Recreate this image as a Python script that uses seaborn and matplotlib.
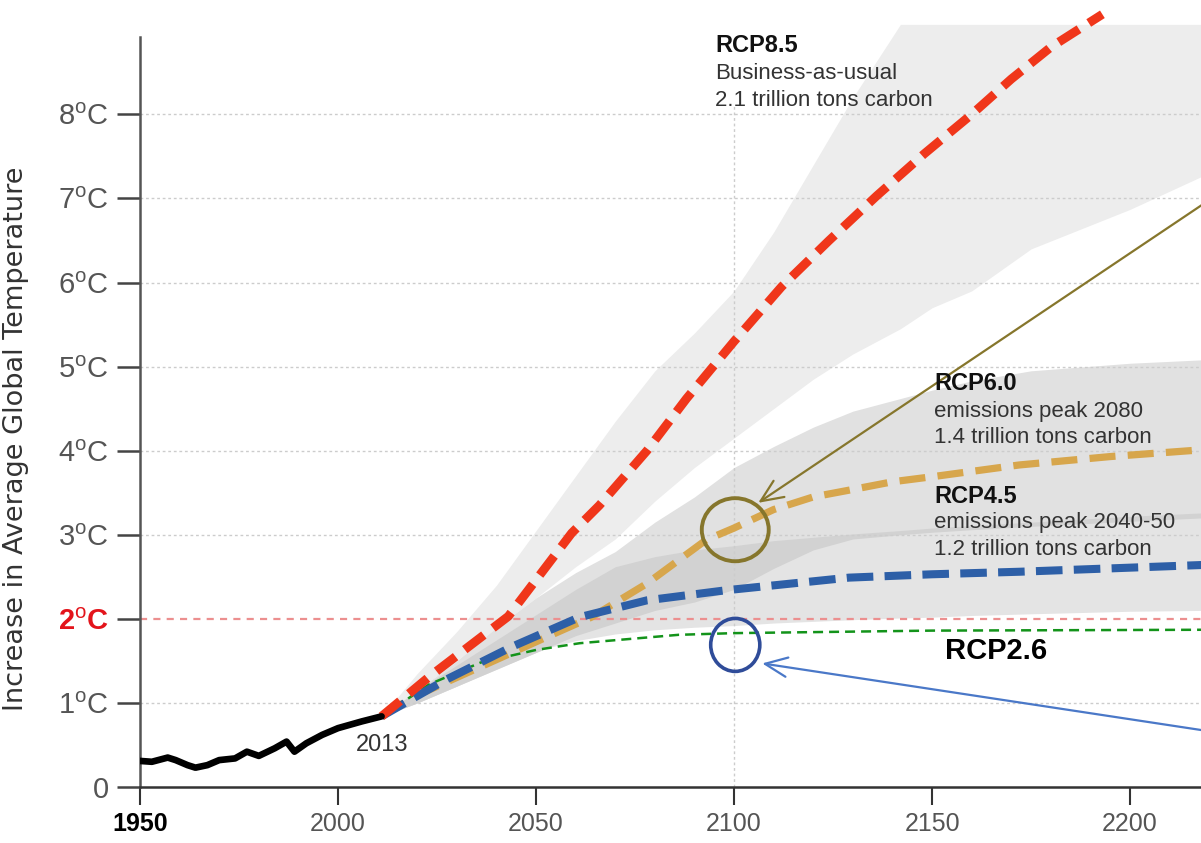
import matplotlib
matplotlib.use("Agg")
import matplotlib.pyplot as plt
from matplotlib.patches import Ellipse
import seaborn as sns
import pandas as pd
import numpy as np

# ---- observed record (1950-2011) ----
hist_years = [1950, 1953, 1957, 1959, 1962, 1964, 1967, 1970, 1974, 1977, 1980,
              1984, 1987, 1989, 1992, 1996, 2000, 2006, 2011]
hist_temp = [0.31, 0.30, 0.35, 0.32, 0.26, 0.23, 0.26, 0.32, 0.34, 0.42, 0.37,
             0.46, 0.54, 0.42, 0.52, 0.62, 0.70, 0.78, 0.84]

# ---- scenario medians ----
rcp85_years = [2011, 2023, 2043, 2059, 2066, 2078, 2088, 2100, 2112, 2124, 2136,
               2148, 2160, 2170, 2180, 2193]
rcp85_temp = [0.84, 1.31, 2.03, 3.02, 3.35, 4.0, 4.62, 5.3, 5.95, 6.5, 7.03,
              7.53, 8.0, 8.42, 8.8, 9.19]

rcp60_years = [2011, 2019, 2036, 2053, 2064, 2078, 2093, 2100, 2110, 2120, 2129,
               2140, 2150, 2172, 2195, 2218]
rcp60_temp = [0.84, 1.07, 1.43, 1.79, 2.02, 2.42, 2.94, 3.08, 3.3, 3.45, 3.53,
              3.63, 3.69, 3.83, 3.93, 4.01]

rcp45_years = [2011, 2027, 2044, 2061, 2078, 2098, 2129, 2150, 2172, 2218]
rcp45_temp = [0.84, 1.27, 1.67, 2.02, 2.22, 2.34, 2.49, 2.53, 2.56, 2.64]

rcp26_years = [2011, 2023, 2036, 2050, 2061, 2086, 2100, 2150, 2218]
rcp26_temp = [0.84, 1.22, 1.48, 1.63, 1.71, 1.81, 1.83, 1.86, 1.87]

# ---- uncertainty ranges ----
band_years = [2011, 2020, 2030, 2040, 2050, 2060, 2070, 2080, 2090, 2100, 2110,
              2120, 2130, 2142, 2150, 2160, 2175, 2200, 2218]
rcp85_hi = [0.84, 1.35, 1.85, 2.4, 3.05, 3.7, 4.35, 4.95, 5.4, 5.9, 6.6,
            7.4, 8.2, 9.07, 9.07, 9.07, 9.07, 9.07, 9.07]
rcp85_lo = [0.84, 1.15, 1.5, 1.9, 2.25, 2.62, 2.95, 3.4, 3.8, 4.15, 4.5,
            4.85, 5.15, 5.45, 5.7, 5.9, 6.4, 6.87, 7.26]
rcp60_hi = [0.84, 1.15, 1.5, 1.9, 2.25, 2.55, 2.8, 3.15, 3.45, 3.8, 4.05,
            4.28, 4.47, 4.62, 4.72, 4.83, 4.95, 5.04, 5.08]
rcp60_lo = [0.84, 1.0, 1.2, 1.4, 1.6, 1.8, 1.95, 2.1, 2.2, 2.35, 2.6,
            2.82, 2.95, 3.0, 3.03, 3.06, 3.1, 3.16, 3.2]
rcp45_hi = [0.84, 1.15, 1.45, 1.75, 2.05, 2.35, 2.62, 2.74, 2.82, 2.87, 2.93,
            2.97, 3.01, 3.05, 3.08, 3.11, 3.15, 3.22, 3.26]
rcp45_lo = [0.84, 1.0, 1.2, 1.42, 1.62, 1.74, 1.82, 1.87, 1.9, 1.92, 1.95,
            1.97, 1.99, 2.01, 2.02, 2.04, 2.06, 2.09, 2.1]

y_ticks = [0, 1, 2, 3, 4, 5, 6, 7, 8]
y_labels = ["0"] + [r"%d$^{\mathrm{o}}$C" % v for v in y_ticks[1:]]
x_ticks = [1950, 2000, 2050, 2100, 2150, 2200]

sns.set_theme(style="white")
plt.rcParams["font.family"] = ["Liberation Sans", "DejaVu Sans"]
plt.rcParams["mathtext.fontset"] = "custom"
plt.rcParams["mathtext.rm"] = "Liberation Sans"

fig = plt.figure(figsize=(12.01, 8.43), dpi=100)
ax = fig.add_axes([140 / 1201, 56 / 843, 1061 / 1201, 787 / 843])
ax.set_xlim(1950, 2217.9)
ax.set_ylim(0, 9.36)

# bands
ax.fill_between(band_years, rcp85_lo, rcp85_hi, color="#ededed", lw=0, zorder=0)
ax.fill_between(band_years, rcp60_lo, rcp60_hi, color="#e1e1e1", lw=0, zorder=0)
ax.fill_between(band_years, rcp45_lo, rcp45_hi, color="#e4e4e4", lw=0, zorder=0)
lo = np.array(rcp60_lo)
hi = np.array(rcp45_hi)
ax.fill_between(band_years, lo, hi, where=lo < hi, interpolate=True,
                color="#d2d2d2", lw=0, zorder=0)

# grid
for v in [1, 3, 4, 5, 6, 7, 8]:
    ax.axhline(v, color="#cccccc", lw=1, ls=(0, (2, 2)), zorder=1)
ax.vlines(2100, 0, 8.1, color="#cccccc", lw=1, ls=(0, (2, 2)), zorder=1)
ax.axhline(2, color="#ec8f8f", lw=1.6, ls=(0, (3.2, 2.8)), zorder=1)

# lines
sns.lineplot(x=rcp26_years, y=rcp26_temp, ax=ax, color="#13931a", lw=1.8,
             linestyle=(0, (4, 2.4)), estimator=None, zorder=3)
sns.lineplot(x=rcp60_years, y=rcp60_temp, ax=ax, color="#d7a64c", lw=5.2,
             linestyle=(0, (3.6, 1.7)), estimator=None, zorder=3)
sns.lineplot(x=rcp45_years, y=rcp45_temp, ax=ax, color="#2d5fa7", lw=5.8,
             linestyle=(0, (3.3, 1.4)), estimator=None, zorder=4)
sns.lineplot(x=rcp85_years, y=rcp85_temp, ax=ax, color="#f0361a", lw=6.4,
             linestyle=(0, (2.7, 1.3)), estimator=None, zorder=4)
sns.lineplot(x=hist_years, y=hist_temp, ax=ax, color="black", lw=4.8,
             estimator=None, zorder=5)

# circles and arrows
ax.add_patch(Ellipse((2100.3, 3.06), 16.9, 0.75, fill=False, ec="#86762c",
                     lw=2.8, zorder=6))
ax.add_patch(Ellipse((2100.3, 1.69), 12.4, 0.63, fill=False, ec="#2f4c99",
                     lw=2.6, zorder=6))
ax.annotate("", xy=(2106.1, 3.38), xytext=(2219, 6.95), annotation_clip=False,
            arrowprops=dict(arrowstyle="->,head_length=0.8,head_width=0.35",
                            color="#86762c", lw=1.6, mutation_scale=20,
                            shrinkA=0, shrinkB=0), zorder=6)
ax.annotate("", xy=(2107.1, 1.47), xytext=(2219, 0.67), annotation_clip=False,
            arrowprops=dict(arrowstyle="->,head_length=0.8,head_width=0.35",
                            color="#4a78c8", lw=1.6, mutation_scale=20,
                            shrinkA=0, shrinkB=0), zorder=6)

# text labels
ax.text(2095.2, 8.82, "RCP8.5", fontsize=17, fontweight="bold", color="#111111",
        va="center", zorder=7)
ax.text(2095.2, 8.48, "Business-as-usual", fontsize=16, color="#333333",
        va="center", zorder=7)
ax.text(2095.2, 8.16, "2.1 trillion tons carbon", fontsize=16, color="#333333",
        va="center", zorder=7)
ax.text(2150.5, 4.80, "RCP6.0", fontsize=17, fontweight="bold", color="#111111",
        va="center", zorder=7)
ax.text(2150.5, 4.47, "emissions peak 2080", fontsize=16, color="#333333",
        va="center", zorder=7)
ax.text(2150.5, 4.16, "1.4 trillion tons carbon", fontsize=16, color="#333333",
        va="center", zorder=7)
ax.text(2150.5, 3.45, "RCP4.5", fontsize=17, fontweight="bold", color="#111111",
        va="center", zorder=7)
ax.text(2150.5, 3.14, "emissions peak 2040-50", fontsize=16, color="#333333",
        va="center", zorder=7)
ax.text(2150.5, 2.83, "1.2 trillion tons carbon", fontsize=16, color="#333333",
        va="center", zorder=7)
ax.text(2153.3, 1.62, "RCP2.6", fontsize=21, fontweight="bold", color="black",
        va="center", zorder=7)
ax.text(2011.1, 0.5, "2013", fontsize=17, color="#333333", ha="center",
        va="center", zorder=7)

# axes styling
for s in ["top", "right"]:
    ax.spines[s].set_visible(False)
ax.spines["left"].set_bounds(0, 8.92)
ax.spines["left"].set_color("#555555")
ax.spines["left"].set_linewidth(1.8)
ax.spines["bottom"].set_color("#333333")
ax.spines["bottom"].set_linewidth(1.8)

ax.set_yticks(y_ticks)
ax.set_yticklabels(y_labels)
ax.set_xticks(x_ticks)
ax.set_xticklabels([str(v) for v in x_ticks])
ax.tick_params(axis="y", direction="out", length=16.5, width=1.8, color="#444444",
               pad=6, labelsize=21, labelcolor="#555555", left=True)
ax.tick_params(axis="x", direction="out", length=13, width=1.5, color="#333333",
               pad=5, labelsize=18, labelcolor="#555555", bottom=True)
lab2 = ax.get_yticklabels()[2]
lab2.set_color("#e3141b")
lab2.set_fontweight("bold")
ax.yaxis.get_major_ticks()[2].tick1line.set_color("#ec8f8f")
lab0 = ax.get_xticklabels()[0]
lab0.set_color("black")
lab0.set_fontweight("bold")

ax.set_xlabel("")
ax.set_ylabel("Increase in Average Global Temperature", fontsize=19.5,
              color="#333333", family=["DejaVu Sans"])
ax.yaxis.set_label_coords(-0.105, 0.442)

fig.savefig("out.png", dpi=100, facecolor="white")
